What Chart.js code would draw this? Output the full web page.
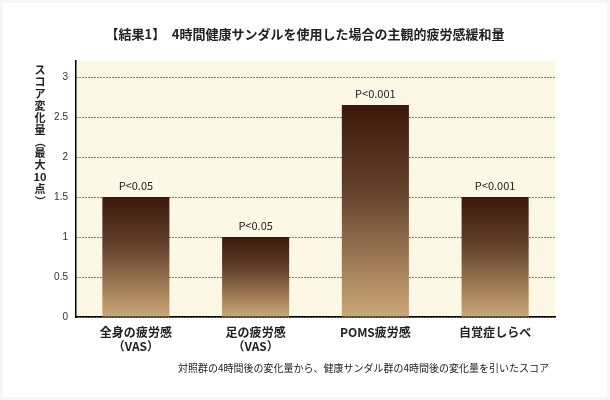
<!DOCTYPE html>
<html><head><meta charset="utf-8">
<script src="https://cdn.jsdelivr.net/npm/chart.js@4/dist/chart.umd.min.js"></script>
<style>body{margin:0;background:#fff}#wrap{width:610px;height:400px}</style>
</head><body><div id="wrap"><canvas id="c" width="610" height="400"></canvas></div>
<script>
const categories = [["全身の疲労感", "（VAS）"], ["足の疲労感", "（VAS）"], ["POMS疲労感"], ["自覚症しらべ"]];
const values = [1.5, 1.0, 2.65, 1.5];
const pLabels = ["P<0.05", "P<0.05", "P<0.001", "P<0.001"];
const FONT = "'Noto Sans CJK JP', 'Noto Sans', sans-serif";

const deco = {
    id: "deco",
    beforeDraw(chart) {
        const { ctx, chartArea: a } = chart;
        ctx.save();
        ctx.fillStyle = "#f6f6f6";
        ctx.fillRect(0, 0, 610, 400);
        ctx.fillStyle = "#fff";
        ctx.fillRect(3, 3, 604, 394);
        ctx.fillStyle = "#fdf7e6";
        ctx.fillRect(a.left, a.top, a.right - a.left, a.bottom - a.top);
        ctx.restore();
    },
    afterDraw(chart) {
        const { ctx } = chart;
        ctx.save();
        ctx.fillStyle = "#222";
        ctx.font = "bold 13px " + FONT;
        ctx.textAlign = "center";
        ctx.textBaseline = "middle";
        ctx.fillText("【結果1】　4時間健康サンダルを使用した場合の主観的疲労感緩和量", 305, 34);
        ctx.font = "10px " + FONT;
        ctx.textAlign = "left";
        ctx.fillText("対照群の4時間後の変化量から、健康サンダル群の4時間後の変化量を引いたスコア", 178, 368);
        // vertical y title
        ctx.font = "bold 11px " + FONT;
        const parts = ["ス", "コ", "ア", "変", "化", "量", "（", "最", "大", "10", "点", "）"];
        let y = 65;
        for (const ch of parts) {
            ctx.textAlign = "center";
            if (ch === "（" || ch === "）") {
                ctx.save(); ctx.translate(40, y + 5); ctx.rotate(Math.PI / 2);
                ctx.fillText(ch, 0, 0); ctx.restore();
                y += 11;
            } else {
                ctx.fillText(ch, 40, y + 5); y += 12;
            }
        }
        // p labels
        const meta = chart.getDatasetMeta(0);
        ctx.font = "11px " + FONT;
        meta.data.forEach((b, i) => ctx.fillText(pLabels[i], b.x, b.y - 11));
        ctx.restore();
    }
};

new Chart(document.getElementById("c"), {
    type: "bar",
    data: {
        labels: categories,
        datasets: [{
            data: values,
            backgroundColor: (c) => {
                const a = c.chart.chartArea;
                if (!a || c.type !== "data") return "#7a5030";
                const top = c.chart.scales.y.getPixelForValue(c.raw);
                const g = c.chart.ctx.createLinearGradient(0, top, 0, a.bottom);
                g.addColorStop(0, "#3b180b");
                g.addColorStop(0.4, "#62402a");
                g.addColorStop(1, "#cba878");
                return g;
            },
            barPercentage: 0.56,
            categoryPercentage: 1
        }]
    },
    options: {
        responsive: false,
        animation: false,
        layout: { padding: { top: 61, right: 55, left: 0, bottom: 0 } },
        plugins: { legend: { display: false }, tooltip: { enabled: false } },
        scales: {
            x: {
                grid: { display: false, drawTicks: false },
                border: { color: "#000", width: 1.5 },
                ticks: { color: "#222", font: { family: FONT, size: 12, weight: "bold" }, padding: 8 },
                afterFit(s) { s.height = 83; }
            },
            y: {
                min: 0, max: 3.2,
                afterBuildTicks(s) { s.ticks = [0, 0.5, 1, 1.5, 2, 2.5, 3].map(v => ({ value: v })); },
                grid: { color: "#000", drawTicks: false },
                border: { color: "#000", width: 1.5, dash: [1, 2] },
                ticks: {
                    color: "#333", font: { family: "'Liberation Sans', sans-serif", size: 10 }, padding: 8,
                    callback: (v) => String(v)
                },
                afterFit(s) { s.width = 76; }
            }
        }
    },
    plugins: [deco]
});
</script></body></html>
